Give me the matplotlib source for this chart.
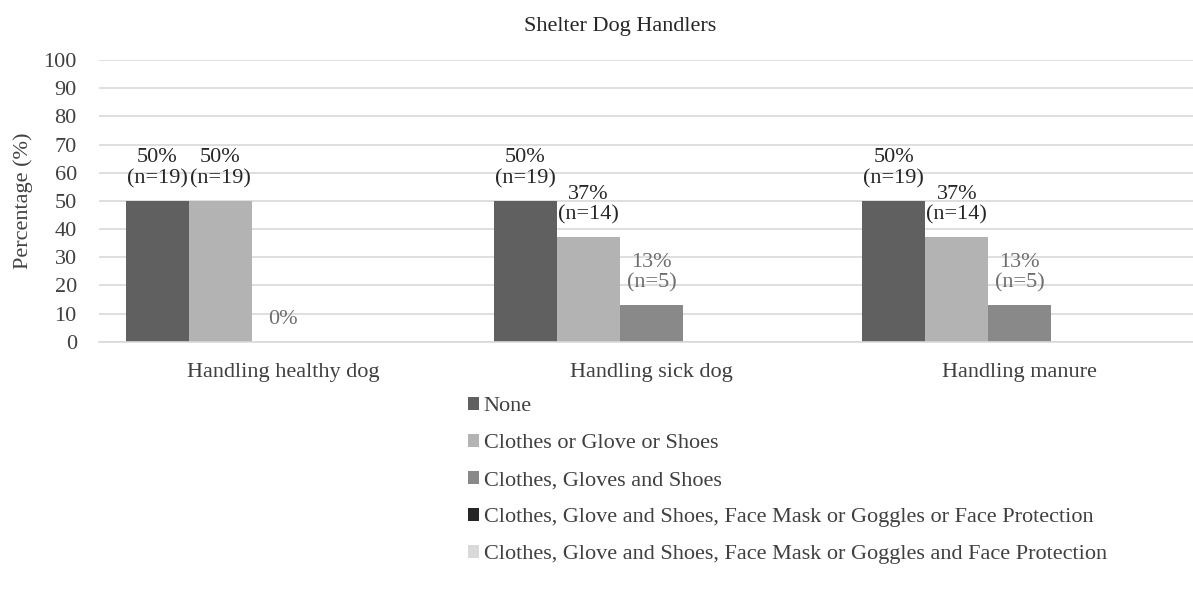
import numpy as np
import matplotlib
matplotlib.use("Agg")
import matplotlib.pyplot as plt
from matplotlib.patches import Patch

categories = ["Handling healthy dog", "Handling sick dog", "Handling manure"]
series_names = ["None",
                "Clothes or Glove or Shoes",
                "Clothes, Gloves and Shoes",
                "Clothes, Glove and Shoes, Face Mask or Goggles or Face Protection",
                "Clothes, Glove and Shoes, Face Mask or Goggles and Face Protection"]
none_pct = [50, 50, 50]
clothes_or_pct = [50, 37, 37]
clothes_and_pct = [0, 13, 13]
mask_or_pct = [0, 0, 0]
mask_and_pct = [0, 0, 0]
none_n = [19, 19, 19]
clothes_or_n = [19, 14, 14]
clothes_and_n = [0, 5, 5]

values = [none_pct, clothes_or_pct, clothes_and_pct, mask_or_pct, mask_and_pct]
counts = [none_n, clothes_or_n, clothes_and_n, None, None]
colors = ['#606060', '#b3b3b3', '#898989', '#262626', '#d9d9d9']
label_colors = ['#262626', '#262626', '#6e6e6e', None, None]

plt.rcParams['font.family'] = ['Liberation Serif', 'DejaVu Serif']
txt = '#404040'
fs = 16

fig = plt.figure(figsize=(11.93, 5.92), dpi=100)
ax = fig.add_axes([99/1193, 1 - 341.7/592, 1105/1193, 281.7/592])

x = np.arange(len(categories))
w = 0.171
for i in range(len(values)):
    pos = x + (i - 2) * w
    ax.bar(pos, values[i], w, color=colors[i], zorder=2)
    if counts[i] is None:
        continue
    for j in range(len(categories)):
        v = values[i][j]
        if v > 0:
            s = "%d%%\n(n=%d)" % (v, counts[i][j])
        else:
            s = "0%"
        ax.annotate(s, (pos[j], v), xytext=(0, 9), textcoords='offset points',
                    ha='center', va='bottom', fontsize=fs, color=label_colors[i],
                    linespacing=1.12)

ax.set_xlim(-0.5, 2.5)
ax.set_ylim(0, 100)
ax.set_yticks(range(0, 101, 10))
ax.set_xticks(x)
ax.set_xticklabels(categories)
ax.yaxis.grid(True, color='#d9d9d9', linewidth=1.2, zorder=0)
ax.set_axisbelow(True)
for sp in ['top', 'right', 'left']:
    ax.spines[sp].set_visible(False)
ax.spines['bottom'].set_color('#d9d9d9')
ax.spines['bottom'].set_linewidth(1.2)
ax.tick_params(axis='y', length=0, pad=16, labelsize=fs, labelcolor=txt)
ax.tick_params(axis='x', length=0, pad=15, labelsize=fs, labelcolor=txt)

fig.text(23/1193, 1 - 201/592, "Percentage (%)", rotation=90, ha='center', va='center',
         fontsize=fs, color=txt)
fig.text(620/1193, 1 - 27/592, "Shelter Dog Handlers", ha='center', va='center',
         fontsize=16, color='#262626')

handles = [Patch(facecolor=c, edgecolor='none') for c in colors]
fig.legend(handles, series_names, loc='upper left', bbox_to_anchor=(468/1193, 1 - 397/592),
           frameon=False, fontsize=fs, labelcolor=txt, borderaxespad=0, borderpad=0,
           handlelength=0.5, handleheight=0.5, handletextpad=0.2, labelspacing=0.8)

plt.savefig('out.png', dpi=100)
